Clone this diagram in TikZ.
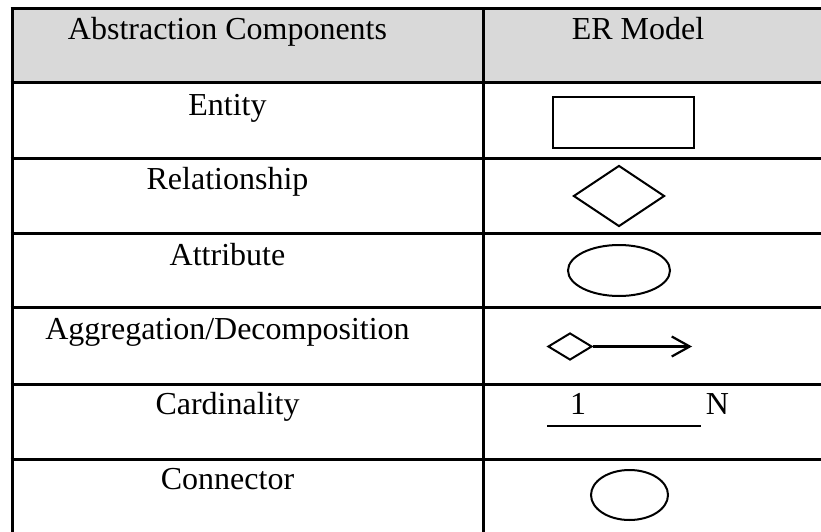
\documentclass[tikz,border=0pt]{standalone}
\usepackage{fontspec}
\setmainfont{Liberation Serif}
\usetikzlibrary{shapes.geometric,arrows.meta}
\definecolor{headgray}{HTML}{D9D9D9}
\begin{document}
\begin{tikzpicture}[x=1pt,y=-1pt,
  tableline/.style={line width=3pt},
  cell/.style={anchor=base,inner sep=0pt,font=\fontsize{32}{38}\selectfont},
  sym/.style={draw,line width=2pt,inner sep=0pt,minimum width=#1},
]
\useasboundingbox (0,0) rectangle (821,532);
\begin{scope}
\clip (0,0) rectangle (821,532);
\fill[headgray] (12,9) rectangle (821,83);
\foreach \yy in {9,83,158,233,307,384,459}
  \draw[tableline] (10.5,\yy) -- (830,\yy);
\foreach \xx in {12,483}
  \draw[tableline] (\xx,7.5) -- (\xx,540);
\end{scope}
% column 1 texts
\node[cell] (h1) at (227.5,40) {Abstraction Components};
\node[cell] (h2) at (638,40) {ER Model};
\node[cell] (t1) at (227.5,115) {Entity};
\node[cell] (t2) at (227.5,189) {Relationship};
\node[cell] (t3) at (227.5,265) {Attribute};
\node[cell] (t4) at (227.5,339) {Aggregation/Decomposition};
\node[cell] (t5) at (227.5,414) {Cardinality};
\node[cell] (t6) at (227.5,489) {Connector};
% symbols
\node[sym=141pt,rectangle,minimum height=51pt] (ent) at (623.5,122.5) {};
\node[sym=91pt,diamond,minimum height=61pt] (rel) at (619,196) {};
\node[sym=102pt,ellipse,minimum height=51pt] (att) at (619,270.5) {};
\node[sym=44pt,diamond,minimum height=27pt] (agg) at (570,346.5) {};
\coordinate (aggend) at (692,346.5);
\draw[line width=2.2pt,-{Straight Barb[length=18pt,width=20pt,line width=2.2pt]}] (agg.east) -- (aggend);
\coordinate (cardA) at (547,426);
\coordinate (cardB) at (701,426);
\draw[line width=2.2pt] (cardA) -- (cardB);
\node[cell] (one) at (578,414) {1};
\node[cell] (many) at (717.5,414) {N};
\node[sym=77pt,ellipse,minimum height=50pt] (con) at (629.5,495) {};
\end{tikzpicture}
\end{document}
